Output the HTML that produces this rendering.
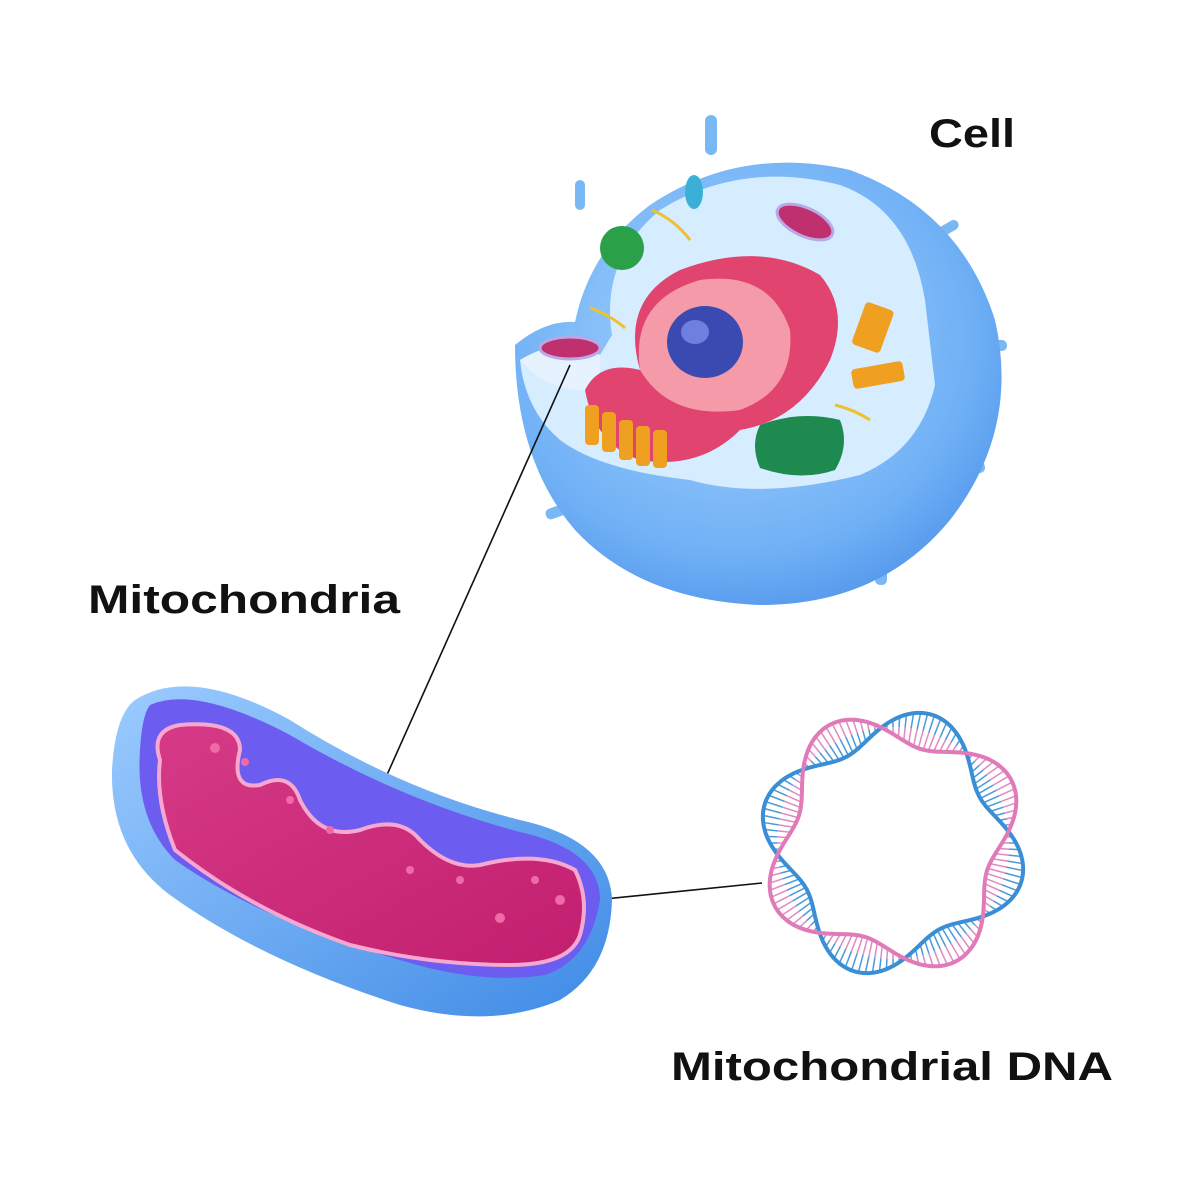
<!DOCTYPE html>
<html><head><meta charset="utf-8"><style>
html,body{margin:0;padding:0;background:#fff}
svg{display:block}
text{font-family:"Liberation Sans",sans-serif;font-weight:bold;fill:#111}
</style></head><body>
<svg id="s" width="1200" height="1200" viewBox="0 0 1200 1200" xmlns="http://www.w3.org/2000/svg">
<defs>
<radialGradient id="cb" cx="0.45" cy="0.4" r="0.7"><stop offset="0" stop-color="#a8d4ff"/><stop offset="0.7" stop-color="#6fb0f5"/><stop offset="1" stop-color="#4a8ee8"/></radialGradient>
<linearGradient id="mb" x1="0" y1="0" x2="1" y2="1"><stop offset="0" stop-color="#9ccbff"/><stop offset="1" stop-color="#3f8be6"/></linearGradient>
<linearGradient id="mp" x1="0" y1="0" x2="1" y2="1"><stop offset="0" stop-color="#d63a86"/><stop offset="1" stop-color="#c21f6f"/></linearGradient>
</defs>
<rect width="1200" height="1200" fill="#fff"/>
<g fill="#7ab8f5">
<rect x="705" y="115" width="12" height="40" rx="6"/>
<rect x="575" y="180" width="10" height="30" rx="5"/>
<rect x="930" y="225" width="30" height="10" rx="5" transform="rotate(-30 945 230)"/>
<rect x="975" y="340" width="32" height="11" rx="5"/>
<rect x="955" y="462" width="30" height="11" rx="5"/>
<rect x="875" y="565" width="12" height="20" rx="5"/>
<rect x="545" y="505" width="30" height="11" rx="5" transform="rotate(-20 560 510)"/>
</g>
<path d="M515 345 Q545 320 575 322 Q590 250 650 205 Q740 145 850 170 Q960 210 995 320 Q1020 430 950 520 Q880 605 760 605 Q640 600 575 530 Q515 460 515 345Z" fill="url(#cb)"/>
<path d="M520 360 Q560 340 600 355 L612 335 Q600 260 660 210 Q740 160 840 185 Q910 210 925 300 L935 385 Q920 450 860 475 Q760 500 690 480 Q600 470 560 440 Q525 410 520 360Z" fill="#d6ecff"/>
<path d="M600 355 Q560 335 520 360 Q550 395 600 390Z" fill="#e6f3ff"/>
<ellipse cx="570" cy="348" rx="30" ry="11" fill="#c0306e" stroke="#b9a8e8" stroke-width="3"/>
<ellipse cx="805" cy="222" rx="30" ry="14" fill="#c0306e" stroke="#b9a8e8" stroke-width="3" transform="rotate(25 805 222)"/>
<ellipse cx="694" cy="192" rx="9" ry="17" fill="#3ab0d8"/>
<circle cx="622" cy="248" r="22" fill="#2aa048"/>
<path d="M652 210 Q675 220 690 240" stroke="#f0c030" stroke-width="3" fill="none"/>
<path d="M590 308 Q610 315 625 328" stroke="#f0c030" stroke-width="3" fill="none"/>
<path d="M835 405 Q855 410 870 420" stroke="#f0c030" stroke-width="3" fill="none"/>
<path d="M585 390 Q600 360 640 370 Q620 300 680 270 Q760 240 820 275 Q850 310 830 360 Q800 420 740 430 Q700 470 640 460 Q595 445 585 390Z" fill="#e0446f"/>
<path d="M640 370 Q630 300 700 280 Q770 270 790 330 Q795 390 740 410 Q670 420 640 370Z" fill="#f49aa8"/>
<ellipse cx="705" cy="342" rx="38" ry="36" fill="#3b4ab0"/>
<ellipse cx="695" cy="332" rx="14" ry="12" fill="#6f7fe0"/>
<g fill="#f0a020"><rect x="585" y="405" width="14" height="40" rx="4"/><rect x="602" y="412" width="14" height="40" rx="4"/><rect x="619" y="420" width="14" height="40" rx="4"/><rect x="636" y="426" width="14" height="40" rx="4"/><rect x="653" y="430" width="14" height="38" rx="4"/></g>
<g fill="#f0a020"><rect x="858" y="305" width="30" height="45" rx="4" transform="rotate(20 873 327)"/><rect x="852" y="365" width="52" height="20" rx="4" transform="rotate(-10 878 375)"/></g>
<path d="M760 425 Q800 410 840 420 Q850 445 835 470 Q800 482 760 468 Q750 445 760 425Z" fill="#1f8a50"/>
<line x1="570" y1="365" x2="378" y2="795" stroke="#111" stroke-width="1.6"/>
<line x1="575" y1="902" x2="762" y2="883" stroke="#111" stroke-width="1.6"/>
<path d="M135 700 Q190 665 290 720 Q400 790 520 820 Q610 840 612 900 Q610 970 560 1000 Q490 1030 400 1005 Q260 960 170 895 Q110 850 112 770 Q115 715 135 700Z" fill="url(#mb)"/>
<path d="M150 705 Q195 685 290 735 Q400 800 520 832 Q600 850 600 900 Q590 960 545 975 Q480 985 400 960 Q260 920 175 860 Q135 820 140 750 Q142 715 150 705Z" fill="#6d5cf0"/>
<path d="M160 760 Q150 730 180 725 Q240 720 240 750 Q230 790 260 785 Q290 770 300 800 Q320 840 360 830 Q400 815 420 840 Q450 870 480 865 Q540 850 575 870 Q590 900 580 935 Q570 965 510 965 Q430 965 350 945 Q250 910 175 850 Q155 800 160 760Z" fill="url(#mp)" stroke="#f7a8d0" stroke-width="4"/>
<g fill="#f06aa8"><circle cx="215" cy="748" r="5"/><circle cx="245" cy="762" r="4"/><circle cx="290" cy="800" r="4"/><circle cx="330" cy="830" r="4"/><circle cx="410" cy="870" r="4"/><circle cx="460" cy="880" r="4"/><circle cx="535" cy="880" r="4"/><circle cx="500" cy="918" r="5"/><circle cx="560" cy="900" r="5"/></g>
<g id="dna"></g>
<text x="929" y="147" font-size="40" textLength="86" lengthAdjust="spacingAndGlyphs">Cell</text>
<text x="88" y="613" font-size="40" textLength="312" lengthAdjust="spacingAndGlyphs">Mitochondria</text>
<text x="671" y="1080" font-size="40" textLength="442" lengthAdjust="spacingAndGlyphs">Mitochondrial DNA</text>
</svg>
<script>
(function(){
var cx=893,cy=843,R=116,A=18,n=4,g=document.getElementById('dna');
function pt(t,s){var r=R+s*A*Math.sin(n*t+0.4);return [cx+r*Math.cos(t),cy+r*Math.sin(t)];}
var p1='',p2='',rungs='';
for(var i=0;i<=720;i++){var t=i/720*2*Math.PI;var a=pt(t,1),b=pt(t,-1);
p1+=(i?'L':'M')+a[0].toFixed(1)+' '+a[1].toFixed(1);p2+=(i?'L':'M')+b[0].toFixed(1)+' '+b[1].toFixed(1);}
for(var j=0;j<120;j++){var t=j/120*2*Math.PI;var a=pt(t,1),b=pt(t,-1);var m=[(a[0]+b[0])/2,(a[1]+b[1])/2];
rungs+='<line x1="'+a[0]+'" y1="'+a[1]+'" x2="'+m[0]+'" y2="'+m[1]+'" stroke="#4a9ad8" stroke-width="1.5"/>';
rungs+='<line x1="'+m[0]+'" y1="'+m[1]+'" x2="'+b[0]+'" y2="'+b[1]+'" stroke="#e08ac0" stroke-width="1.5"/>';}
g.innerHTML=rungs+'<path d="'+p1+'" fill="none" stroke="#3a8ed6" stroke-width="4"/><path d="'+p2+'" fill="none" stroke="#e07ab8" stroke-width="4"/>';
})();
</script>
</body></html>
